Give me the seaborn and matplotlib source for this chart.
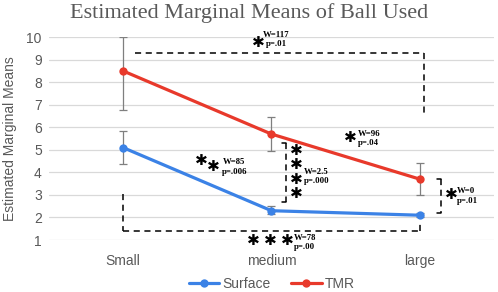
import matplotlib.pyplot as plt
import seaborn as sns
import pandas as pd

# Data
sizes = ['Small', 'medium', 'large']
surface = [5.1, 2.3, 2.1]
surface_lo = [4.35, 2.15, 2.0]
surface_hi = [5.85, 2.5, 2.2]
tmr = [8.5, 5.7, 3.7]
tmr_lo = [6.75, 4.95, 3.0]
tmr_hi = [10.0, 6.45, 4.4]

blue = '#3b82e6'
red = '#e8392b'
grey = '#595959'

df = pd.DataFrame({
    'size': sizes * 2,
    'mean': surface + tmr,
    'ball': ['Surface'] * 3 + ['TMR'] * 3,
})

sns.set_style('white')
plt.rcParams['font.family'] = ['Liberation Sans', 'DejaVu Sans']
fig = plt.figure(figsize=(4.98, 2.92), dpi=100)
ax = fig.add_axes([0.098, 0.178, 0.894, 0.695])

# error bars
for vals, lo, hi in [(surface, surface_lo, surface_hi), (tmr, tmr_lo, tmr_hi)]:
    err = [[v - l for v, l in zip(vals, lo)], [h - v for v, h in zip(vals, hi)]]
    ax.errorbar(range(len(sizes)), vals, yerr=err, fmt='none', ecolor='#7f7f7f',
                elinewidth=0.9, capsize=3, capthick=0.9, zorder=2)

sns.lineplot(data=df, x='size', y='mean', hue='ball', palette=[blue, red],
             marker='o', markersize=6, markeredgewidth=0, linewidth=2.3,
             sort=False, ax=ax, zorder=3)

ax.set_xlim(-0.5, 2.5)
ax.set_ylim(1, 10)
ax.set_yticks(range(1, 11))
ax.grid(axis='y', color='#d9d9d9', linewidth=0.9)
ax.grid(axis='x', visible=False)
for s in ax.spines.values():
    s.set_visible(False)
ax.tick_params(axis='both', length=0, labelsize=10, labelcolor=grey, pad=5)
ax.tick_params(axis='x', pad=10)
ax.set_xlabel('')
ax.set_ylabel('Estimated Marginal Means', fontsize=10, color=grey, labelpad=7)
fig.suptitle('Estimated Marginal Means of Ball Used', fontsize=16, color=grey,
             family='Liberation Serif', x=0.5, y=0.99)

leg = ax.legend(loc='center', bbox_to_anchor=(0.5, -0.215), ncol=2,
                frameon=False, fontsize=10, handlelength=2.2, columnspacing=1.5,
                handletextpad=0.2, borderpad=0.1)
for t in leg.get_texts():
    t.set_color(grey)

# significance brackets
dash = dict(color='black', linestyle=(0, (4, 3)), linewidth=1.1, zorder=4)
ax.plot([0.08, 2.03], [9.3, 9.3], **dash)
ax.plot([2.03, 2.03], [9.3, 6.6], **dash)
ax.plot([0.0, 0.0], [3.05, 1.42], **dash)
ax.plot([0.0, 2.0], [1.42, 1.42], **dash)
ax.plot([2.0, 2.0], [1.42, 1.8], **dash)
ax.plot([1.095, 1.095], [5.3, 2.7], **dash)
ax.plot([1.07, 1.095], [5.3, 5.3], color='black', lw=1.1)
ax.plot([1.07, 1.095], [2.7, 2.7], color='black', lw=1.1)
ax.plot([2.14, 2.14], [3.7, 2.2], **dash)
ax.plot([2.115, 2.14], [3.7, 3.7], color='black', lw=1.1)
ax.plot([2.115, 2.14], [2.2, 2.2], color='black', lw=1.1)

star = dict(fontsize=11, color='black', ha='center', va='center', family='DejaVu Sans')
wtxt = dict(fontsize=6.3, color='black', fontweight='bold', family='Liberation Serif',
            ha='left', va='center')

ax.text(0.915, 9.75, '\u2731', **star)
ax.text(0.94, 10.08, 'W=117', **wtxt)
ax.text(0.96, 9.68, 'p=.01', **wtxt)

ax.text(0.53, 4.54, '\u2731', **star)
ax.text(0.61, 4.25, '\u2731', **star)
ax.text(0.67, 4.46, 'W=85', **wtxt)
ax.text(0.67, 4.02, 'p=.006', **wtxt)

ax.text(1.53, 5.53, '\u2731', **star)
ax.text(1.58, 5.7, 'W=96', **wtxt)
ax.text(1.58, 5.3, 'p=.04', **wtxt)

for yv in [4.95, 4.33, 3.7, 3.05]:
    ax.text(1.17, yv, '\u2731', **star)
ax.text(1.22, 4.0, 'W=2.5', **wtxt)
ax.text(1.22, 3.6, 'p=.000', **wtxt)

ax.text(2.21, 3.0, '\u2731', **star)
ax.text(2.25, 3.18, 'W=0', **wtxt)
ax.text(2.25, 2.72, 'p=.01', **wtxt)

for xv in [0.88, 0.99, 1.11]:
    ax.text(xv, 0.98, '\u2731', clip_on=False, **star)
ax.text(1.15, 1.1, 'W=78', clip_on=False, **wtxt)
ax.text(1.15, 0.67, 'p=.00', clip_on=False, **wtxt)

plt.savefig('out.png', dpi=100)
